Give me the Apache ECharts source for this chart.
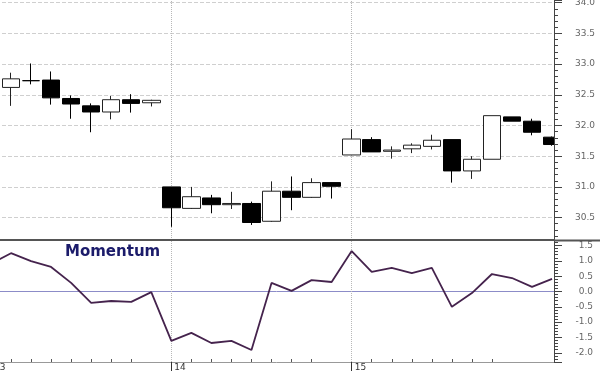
<!DOCTYPE html>
<html><head><meta charset="utf-8">
<script src="https://cdn.jsdelivr.net/npm/echarts@6/dist/echarts.min.js"></script>
<style>html,body{margin:0;padding:0;background:#fff}#c{width:600px;height:371px}</style>
</head><body><div id="c"></div>
<script>
// Day labels and the bar slot where each day starts
const days = ['13', '14', '15'];
const dayStart = [0, 9, 18];
// Small hourly tick slots on the time axis
const tickSlots = [1,2,3,4,5,6,7, 10,11,12,13,14,15,16, 19,20,21,22,23,24,25];
// Price grid values
const priceTicks = [30.5, 31.0, 31.5, 32.0, 32.5, 33.0, 33.5, 34.0];
// Bar slots of the visible candles (slot 0 is before the left edge)
const slots = [1,2,3,4,5,6,7,8,9,10,11,12,13,14,15,16,17,18,19,20,21,22,23,24,25,26,27,28];
const open  = [32.62,32.73,32.74,32.44,32.32,32.22,32.42,32.37, 31.00,30.65,30.82,30.71,30.73,30.44,30.93,30.83,31.07, 31.52,31.77,31.58,31.62,31.66,31.77,31.26,31.45,32.14,32.07,31.81];
const close = [32.76,32.73,32.45,32.35,32.22,32.42,32.36,32.41, 30.66,30.84,30.71,30.73,30.42,30.93,30.83,31.07,31.01, 31.78,31.57,31.60,31.68,31.76,31.26,31.45,32.16,32.07,31.89,31.69];
const low   = [32.32,32.67,32.34,32.11,31.89,32.10,32.21,32.31, 30.35,30.64,30.57,30.64,30.38,30.43,30.62,30.82,30.81, 31.52,31.57,31.46,31.55,31.61,31.07,31.13,31.45,32.07,31.84,31.67];
const high  = [32.86,33.01,32.88,32.49,32.36,32.48,32.51,32.42, 31.00,31.00,30.87,30.92,30.76,31.09,31.17,31.14,31.07, 31.94,31.81,31.66,31.71,31.85,31.77,31.50,32.16,32.14,32.11,31.82];
// Momentum, slots 0..28
const momentumSlots = [0].concat(slots);
const momentum = [0.90,1.25,0.99,0.80,0.28,-0.37,-0.31,-0.34,-0.02, -1.61,-1.35,-1.68,-1.61,-1.91,0.28,0.02,0.37,0.31, 1.32,0.64,0.77,0.60,0.77,-0.50,-0.05,0.57,0.44,0.15,0.41];

const candleData = slots.map((s, k) => [s, open[k], close[k], low[k], high[k]]);
const momData = momentumSlots.map((s, k) => [s, momentum[k]]);

const X_MIN = -0.048, X_MAX = 28.096;
const P_MIN = 30.135, P_MAX = 34.044;
const FONT = 'DejaVu Sans';
const half = v => Math.abs(v * 2 - Math.round(v * 2)) < 1e-6;
const dayLines = dayStart.slice(1).map(v => ({ xAxis: v }));
const dayLineStyle = { color: '#b8b8b8', type: 'dotted', width: 1 };

const chart = echarts.init(document.getElementById('c'), null, { renderer: 'canvas' });
chart.setOption({
  animation: false,
  backgroundColor: '#fff',
  title: {
    text: 'Momentum', left: 65, top: 245, padding: 0,
    textStyle: { fontFamily: FONT, fontSize: 15, fontWeight: 'bold', color: '#1b1b6a' }
  },
  graphic: [
    { type: 'rect', shape: { x: 555, y: 0, width: 45, height: 239 },
      style: { fill: '#fff' }, z: 4, silent: true },
    { type: 'line', shape: { x1: 554, y1: 240.5, x2: 600, y2: 240.5 },
      style: { stroke: '#555', lineWidth: 2 }, z: 12, silent: true }
  ],
  grid: [
    { left: -10, right: 46, top: 0, height: 240, outerBoundsMode: 'none', containLabel: false },
    { left: -10, right: 46, top: 240, height: 122, outerBoundsMode: 'none', containLabel: false }
  ],
  xAxis: [
    { gridIndex: 0, type: 'value', min: X_MIN, max: X_MAX, z: 10,
      axisLine: { show: true, onZero: false, lineStyle: { color: '#555', width: 2 } },
      axisTick: { show: false }, axisLabel: { show: false }, splitLine: { show: false } },
    { gridIndex: 1, type: 'value', min: X_MIN, max: X_MAX, position: 'bottom',
      axisLine: { show: true, onZero: false, lineStyle: { color: '#999', width: 1 } },
      axisTick: { show: true, inside: true, length: 3, customValues: tickSlots, lineStyle: { color: '#555' } },
      axisLabel: { show: true, customValues: dayStart, formatter: v => days[dayStart.indexOf(v)],
        align: 'left', margin: 1, padding: [0, 0, 0, 3], fontFamily: FONT, fontSize: 9, color: '#333' },
      splitLine: { show: false } },
    { gridIndex: 1, type: 'value', min: X_MIN, max: X_MAX, position: 'top', offset: -122,
      axisLine: { show: false, onZero: false },
      axisTick: { show: true, inside: true, length: 9, customValues: dayStart, lineStyle: { color: '#333' } },
      axisLabel: { show: false }, splitLine: { show: false } }
  ],
  yAxis: [
    { gridIndex: 0, type: 'value', position: 'right', min: P_MIN, max: P_MAX, splitNumber: 8, z: 10,
      axisLine: { show: true, onZero: false, lineStyle: { color: '#444' } },
      axisTick: { show: true, length: 8, lineStyle: { color: '#444' } },
      minorTick: { show: true, splitNumber: 5, length: 4, lineStyle: { color: '#444' } },
      axisLabel: { formatter: v => half(v) ? v.toFixed(1) : '', align: 'right', margin: 41,
        fontFamily: FONT, fontSize: 9, color: '#666' },
      splitLine: { show: false } },
    { gridIndex: 1, type: 'value', position: 'right', min: -2.30, max: 1.68, splitNumber: 8, z: 10,
      axisLine: { show: true, onZero: false, lineStyle: { color: '#444' } },
      axisTick: { show: true, length: 8, lineStyle: { color: '#444' } },
      minorTick: { show: true, splitNumber: 5, length: 4, lineStyle: { color: '#444' } },
      axisLabel: { formatter: v => half(v) ? v.toFixed(1) : '', align: 'right', margin: 39,
        fontFamily: FONT, fontSize: 9, color: '#666' },
      splitLine: { show: false } },
    { gridIndex: 0, type: 'value', position: 'left', min: P_MIN, max: P_MAX, z: 0,
      axisLine: { show: false, onZero: false },
      axisTick: { show: false, customValues: priceTicks },
      axisLabel: { show: false },
      splitLine: { show: true, lineStyle: { color: '#cfcfcf', type: 'dashed' } } }
  ],
  series: [
    { type: 'candlestick', xAxisIndex: 0, yAxisIndex: 0, data: candleData, barWidth: 18, clip: true,
      itemStyle: { color: '#ffffff', color0: '#000000', borderColor: '#222', borderColor0: '#000', borderWidth: 1 },
      markLine: { z: 1, silent: true, symbol: ['none', 'none'], label: { show: false }, lineStyle: dayLineStyle, data: dayLines } },
    { type: 'line', xAxisIndex: 1, yAxisIndex: 1, data: momData, showSymbol: false, clip: true,
      lineStyle: { color: '#45234d', width: 1.8 },
      markLine: { z: 1, silent: true, symbol: ['none', 'none'], label: { show: false },
        data: [{ yAxis: 0, lineStyle: { color: '#8c8cc8', type: 'solid', width: 1 } }]
          .concat(dayLines.map(d => Object.assign({ lineStyle: dayLineStyle }, d))) } }
  ]
});
</script></body></html>
